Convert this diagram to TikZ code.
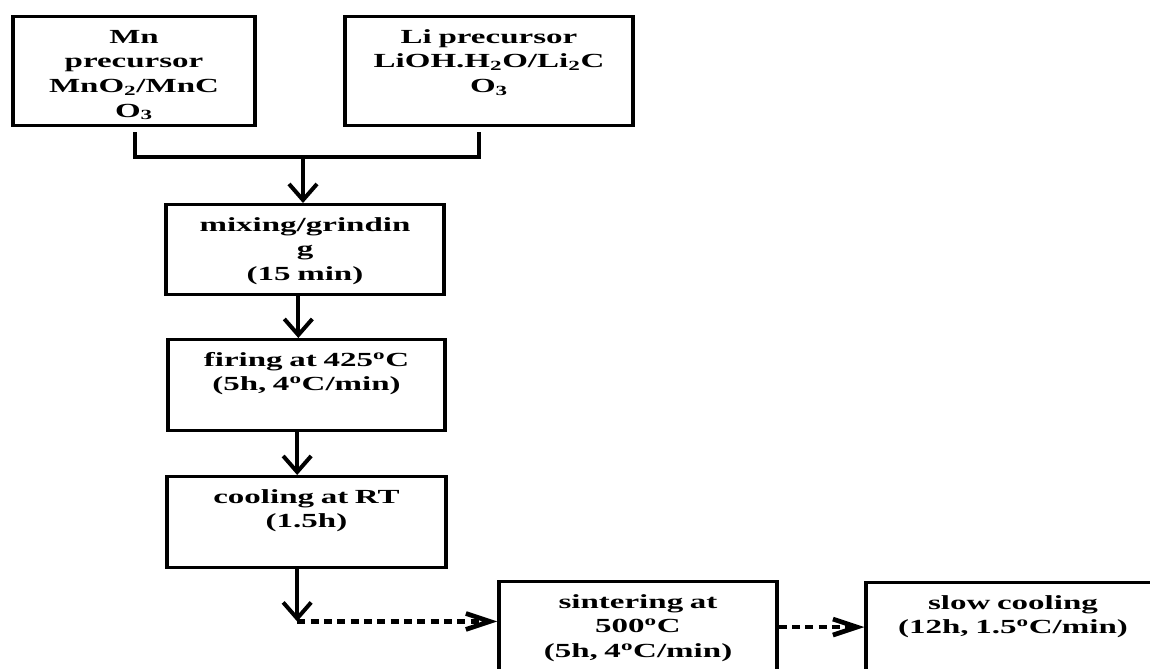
\documentclass[tikz,border=0pt]{standalone}
\usepackage{fontspec}
\setmainfont{Liberation Serif}[FakeStretch=1.65]
\usetikzlibrary{arrows.meta,calc}

\begin{document}
\begin{tikzpicture}[x=0.75pt, y=-0.75pt,
    stepbox/.style={draw, line width=2.6pt, inner sep=0pt, align=center, anchor=north,
      font=\bfseries\fontsize{15}{18.4}\selectfont, text height=20pt},
    flow/.style={line width=3pt, -{Straight Barb[length=12pt,width=21pt]}},
    dotflow/.style={line width=3.5pt, dash pattern=on 6pt off 4pt,
      -{Straight Barb[length=18pt,width=12pt]}}]
  \useasboundingbox (0,0) rectangle (1150,668);
  % precursors
  \node[stepbox, text width=181.5pt, text depth=61.75pt] (mn) at (134,15)
    {Mn\\precursor\\MnO\textsubscript{2}/MnC\\O\textsubscript{3}};
  \node[stepbox, text width=216pt, text depth=61.75pt] (li) at (489,15)
    {Li precursor\\LiOH.H\textsubscript{2}O/Li\textsubscript{2}C\\O\textsubscript{3}};
  % main steps
  \node[stepbox, text width=208.5pt, text depth=47.5pt] (mix) at (305,203)
    {mixing/grindin\\g\\(15 min)};
  \node[stepbox, text width=208pt, text depth=48.25pt] (fire) at (306.5,338)
    {firing at 425\textsuperscript{o}C\\(5h, 4\textsuperscript{o}C/min)};
  \node[stepbox, text width=209pt, text depth=48.25pt] (cool) at (306.5,475)
    {cooling at RT\\(1.5h)};
  \node[stepbox, text width=208.5pt, text depth=70pt] (sinter) at (638,580)
    {sintering at\\500\textsuperscript{o}C\\(5h, 4\textsuperscript{o}C/min)};
  \node[stepbox, text width=220.5pt, text depth=70pt] (slow) at (1013,581)
    {slow cooling\\(12h, 1.5\textsuperscript{o}C/min)};

  \coordinate (join) at (303,157);
  \draw[line width=3pt] ($(mn.south)+(1,5)$) |- (join) -| ($(li.south)+(-10,5)$);
  \draw[flow] (join) -- (join |- mix.north);
  \draw[flow] ([xshift=-5pt]mix.south) -- ([xshift=-5pt]mix.south |- fire.north);
  \draw[flow] ([xshift=-7pt]fire.south) -- ([xshift=-7pt]fire.south |- cool.north);
  \draw[flow] ([xshift=-7pt]cool.south) -- ++(0,52) coordinate (turn);
  \draw[dotflow] (turn) -- (turn -| sinter.west);
  \draw[dotflow] ([yshift=11pt]sinter.east) -- ([yshift=11pt]sinter.east -| slow.west);
\end{tikzpicture}
\end{document}
